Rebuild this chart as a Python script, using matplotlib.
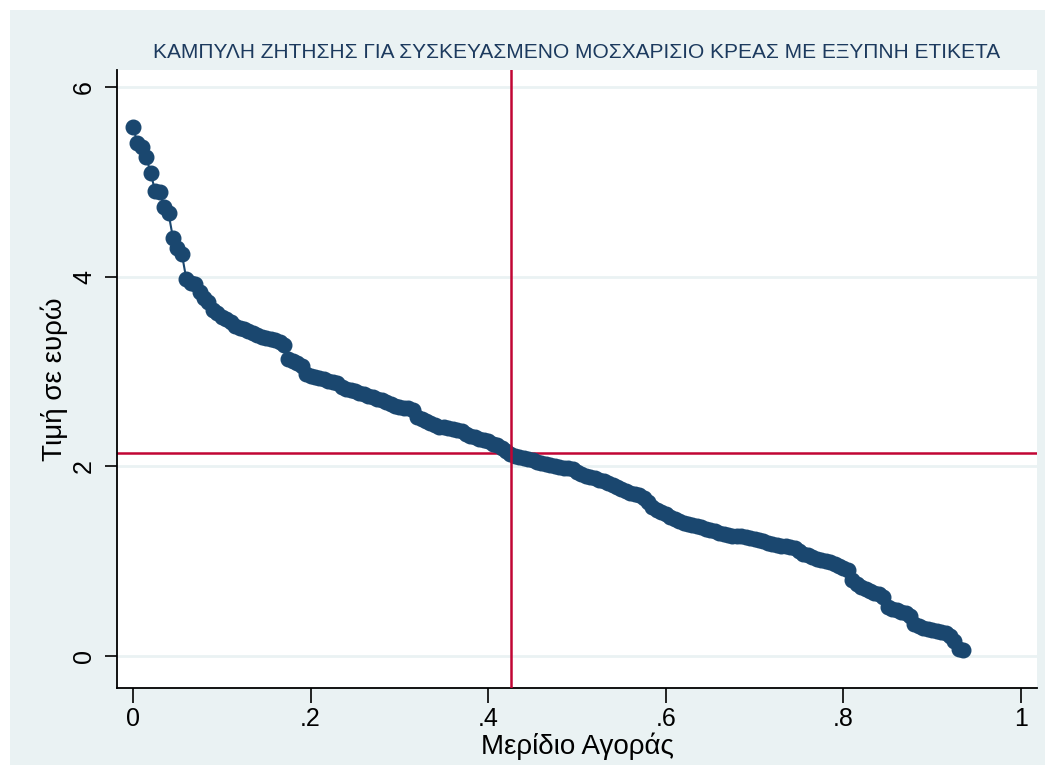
import numpy as np
import matplotlib
matplotlib.use('Agg')
import matplotlib.pyplot as plt
from matplotlib.patches import Rectangle

plt.rcParams['font.family'] = ['Liberation Sans', 'DejaVu Sans']

# price per observation, sorted high to low (each obs adds 1/n_obs to market share)
price = [5.58, 5.41, 5.37, 5.26, 5.09, 4.90, 4.89, 4.74, 4.67, 4.41,
         4.30, 4.24, 3.98, 3.93, 3.92, 3.84, 3.78, 3.73, 3.65, 3.62,
         3.58, 3.55, 3.52, 3.48, 3.46, 3.45, 3.43, 3.41, 3.38, 3.36,
         3.35, 3.34, 3.33, 3.31, 3.28, 3.13, 3.11, 3.09, 3.06, 2.97,
         2.95, 2.94, 2.93, 2.92, 2.90, 2.89, 2.88, 2.84, 2.82, 2.80,
         2.79, 2.77, 2.76, 2.74, 2.73, 2.71, 2.70, 2.68, 2.66, 2.64,
         2.63, 2.62, 2.61, 2.59, 2.52, 2.50, 2.48, 2.46, 2.44, 2.42,
         2.41, 2.40, 2.39, 2.38, 2.37, 2.34, 2.32, 2.31, 2.29, 2.28,
         2.27, 2.24, 2.22, 2.19, 2.16, 2.13, 2.11, 2.10, 2.09, 2.08,
         2.07, 2.05, 2.03, 2.02, 2.01, 2.00, 1.99, 1.98, 1.98, 1.97,
         1.94, 1.92, 1.90, 1.89, 1.88, 1.86, 1.84, 1.82, 1.80, 1.78,
         1.76, 1.74, 1.72, 1.71, 1.70, 1.67, 1.62, 1.57, 1.54, 1.52,
         1.50, 1.47, 1.44, 1.42, 1.40, 1.39, 1.38, 1.37, 1.36, 1.34,
         1.33, 1.32, 1.30, 1.29, 1.28, 1.27, 1.27, 1.26, 1.25, 1.24,
         1.23, 1.22, 1.21, 1.19, 1.18, 1.17, 1.16, 1.16, 1.15, 1.14,
         1.11, 1.08, 1.06, 1.04, 1.02, 1.01, 1.00, 0.99, 0.97, 0.95,
         0.93, 0.91, 0.80, 0.76, 0.73, 0.71, 0.68, 0.66, 0.65, 0.62,
         0.52, 0.50, 0.48, 0.46, 0.45, 0.42, 0.34, 0.32, 0.30, 0.28,
         0.27, 0.26, 0.25, 0.24, 0.21, 0.16, 0.07, 0.06]
n_obs = 200
share = np.arange(len(price)) / n_obs

eq_share = 0.4257
eq_price = 2.141

xticks = [0, 0.2, 0.4, 0.6, 0.8, 1.0]
xticklabels = ['0', '.2', '.4', '.6', '.8', '1']
yticks = [0, 2, 4, 6]
yticklabels = ['0', '2', '4', '6']

title = 'ΚΑΜΠΥΛΗ ΖΗΤΗΣΗΣ ΓΙΑ ΣΥΣΚΕΥΑΣΜΕΝΟ ΜΟΣΧΑΡΙΣΙΟ ΚΡΕΑΣ ΜΕ ΕΞΥΠΝΗ ΕΤΙΚΕΤΑ'

navy = '#1a476f'
red = '#c10534'
bg = '#eaf2f3'

fig = plt.figure(figsize=(10.51, 7.73), dpi=100)
fig.patch.set_facecolor('white')
fig.add_artist(Rectangle((10/1051, 8/773), 1035/1051, 755/773,
                         transform=fig.transFigure, facecolor=bg,
                         edgecolor='none', zorder=0))

ax = fig.add_axes([117/1051, 1 - 688/773, 920/1051, 618/773])
ax.set_facecolor('white')

for yv in yticks:
    ax.axhline(yv, color=bg, lw=2, zorder=0.5)

ax.axhline(eq_price, color=red, lw=1.8, zorder=1)
ax.plot(share, price, '-o', color=navy, ms=10.5, lw=1.5, mec=navy, zorder=2)
ax.axvline(eq_share, color=red, lw=1.8, zorder=3)

ax.set_xlim(-0.018, 1.018)
ax.set_ylim(-0.338, 6.18)

for s in ['top', 'right']:
    ax.spines[s].set_visible(False)
ax.spines['left'].set_linewidth(1.3)
ax.spines['bottom'].set_linewidth(1.3)

ax.set_xticks(xticks)
ax.set_xticklabels(xticklabels, fontsize=18)
ax.set_yticks(yticks)
ax.set_yticklabels(yticklabels, fontsize=18, rotation=90, va='center')
ax.tick_params(axis='x', length=11, width=1.2, pad=3)
ax.tick_params(axis='y', length=9, width=1.2, pad=6)

ax.set_xlabel('Μερίδιο Αγοράς', fontsize=20, labelpad=1)
ax.set_ylabel('Τιμή σε ευρώ', fontsize=20, labelpad=3)

fig.text(577/1051, 1 - 53/773, title, fontsize=15, color='#1c3a5e',
         ha='center', va='center')

fig.savefig('out.png', dpi=100, facecolor=fig.get_facecolor())
